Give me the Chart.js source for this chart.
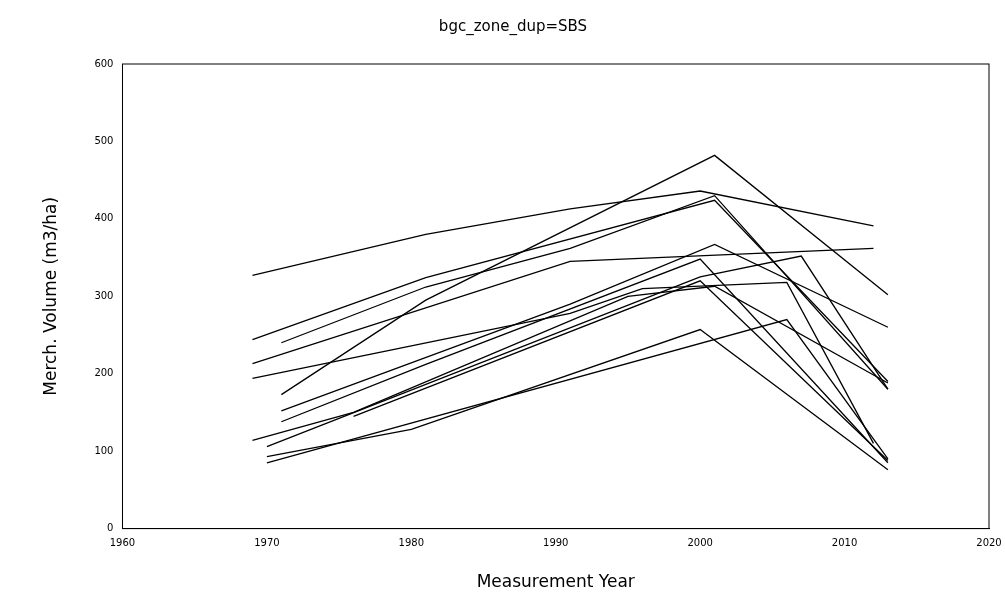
<!DOCTYPE html>
<html>
<head>
<meta charset="UTF-8">
<script src="https://cdn.jsdelivr.net/npm/chart.js"></script>
<style>
  body { margin: 0; background: #fff; }
  #wrap { width: 1005px; height: 607px; }
</style>
</head>
<body>
<div id="wrap"><canvas id="c"></canvas></div>
<script>
// each series: measurement years and merch. volume (m3/ha)
const years1 = [1969, 1981, 1991, 2000, 2012];  const vol1 = [327, 380, 413, 436, 391];
const years2 = [1969, 1981, 2001, 2013];        const vol2 = [244, 324, 424, 190];
const years3 = [1971, 1981, 1991, 2001, 2013];  const vol3 = [240, 312, 362, 430, 180];
const years4 = [1969, 1991, 2012];              const vol4 = [213, 345, 362];
const years5 = [1971, 1981, 2001, 2013];        const vol5 = [173, 295, 482, 302];
const years6 = [1969, 1991, 1996, 2006, 2012];  const vol6 = [194, 278, 310, 318, 110];
const years7 = [1971, 1991, 2001, 2013];        const vol7 = [152, 290, 367, 260];
const years8 = [1971, 1981, 2000, 2013];        const vol8 = [138, 212, 348, 85];
const years9 = [1970, 2000, 2007, 2013];        const vol9 = [106, 325, 352, 180];
const years10 = [1969, 1976, 1995, 2001, 2013]; const vol10 = [114, 150, 300, 313, 188];
const years11 = [1970, 1980, 2000, 2013];       const vol11 = [93, 128, 257, 76];
const years12 = [1970, 2006, 2013];             const vol12 = [85, 270, 90];
const years13 = [1976, 2000, 2013];             const vol13 = [145, 320, 88];

const allYears = [years1, years2, years3, years4, years5, years6, years7, years8, years9, years10, years11, years12, years13];
const allVols = [vol1, vol2, vol3, vol4, vol5, vol6, vol7, vol8, vol9, vol10, vol11, vol12, vol13];

const datasets = allYears.map((ys, i) => ({
  data: ys.map((y, j) => ({ x: y, y: allVols[i][j] })),
  borderColor: '#000',
  borderWidth: 1.3,
  pointRadius: 0,
  fill: false,
  tension: 0
}));

const boxBorder = {
  id: 'boxBorder',
  afterDraw(chart) {
    const a = chart.chartArea, ctx = chart.ctx;
    ctx.save();
    ctx.strokeStyle = '#000';
    ctx.lineWidth = 1;
    ctx.strokeRect(a.left, a.top, a.right - a.left, a.bottom - a.top);
    ctx.restore();
  }
};

new Chart(document.getElementById('c'), {
  type: 'line',
  data: { datasets },
  plugins: [boxBorder],
  options: {
    responsive: true,
    maintainAspectRatio: false,
    animation: false,
    layout: { padding: { left: 37, right: 16, top: 0, bottom: 10 } },
    plugins: {
      legend: { display: false },
      tooltip: { enabled: false },
      title: {
        display: true,
        text: 'bgc_zone_dup=SBS',
        color: '#000',
        font: { family: 'DejaVu Sans', size: 15, weight: 'normal' },
        padding: { top: 18, bottom: 28 }
      }
    },
    scales: {
      x: {
        type: 'linear', min: 1960, max: 2020,
        grid: { display: false, drawTicks: true, tickLength: 6, tickColor: '#000' },
        border: { color: '#000' },
        ticks: { stepSize: 10, color: '#000', font: { family: 'DejaVu Sans', size: 10 }, callback: v => String(v) },
        title: { display: true, text: 'Measurement Year', color: '#000', font: { family: 'DejaVu Sans', size: 17 }, padding: { top: 20 } }
      },
      y: {
        min: 0, max: 600,
        grid: { display: false, drawTicks: true, tickLength: 6, tickColor: '#000' },
        border: { color: '#000' },
        ticks: { stepSize: 100, color: '#000', font: { family: 'DejaVu Sans', size: 10 } },
        title: { display: true, text: 'Merch. Volume (m3/ha)', color: '#000', font: { family: 'DejaVu Sans', size: 17 }, padding: { bottom: 30 } }
      }
    }
  }
});
</script>
</body>
</html>
